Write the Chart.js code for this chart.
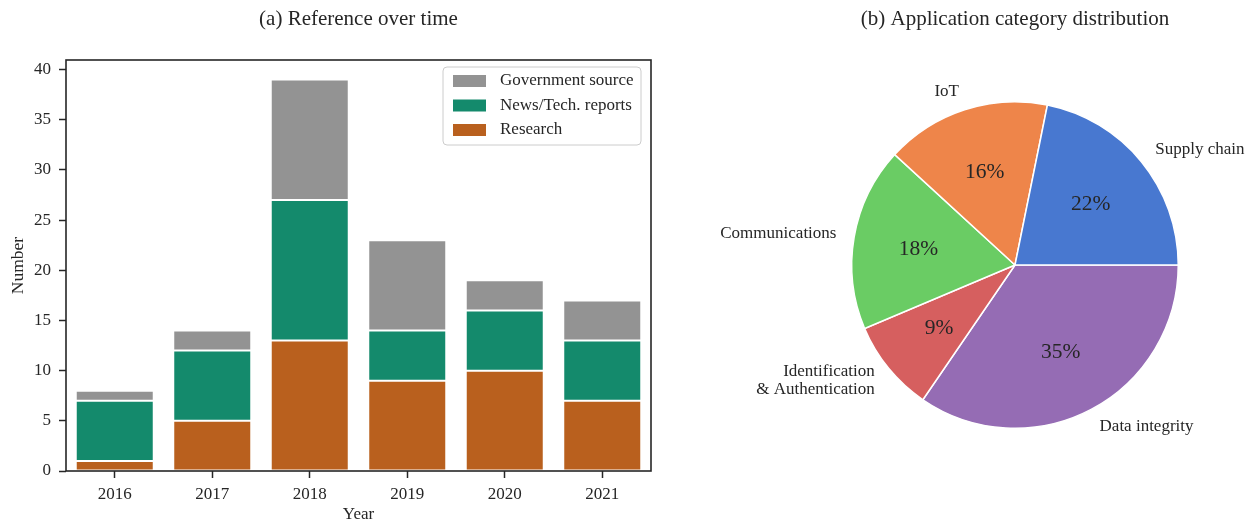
<!DOCTYPE html>
<html><head><meta charset="utf-8">
<script src="https://cdn.jsdelivr.net/npm/chart.js@4.4.0/dist/chart.umd.min.js"></script>
<style>
html,body{margin:0;padding:0;background:#fff;overflow:hidden;width:1247px;height:521px;}
#c1{position:absolute;left:0;top:0;}
#c2{position:absolute;left:690px;top:0;}
</style></head><body>
<canvas id="c1" width="700" height="521"></canvas>
<canvas id="c2" width="557" height="521"></canvas>
<script>
// ---- data ----
const years = ['2016','2017','2018','2019','2020','2021'];
const research = [1, 5, 13, 9, 10, 7];
const newsTech = [6, 7, 14, 5, 6, 6];
const government = [1, 2, 12, 9, 3, 4];
const yTicksStep = 5;

const pieLabels = ['Supply chain', 'IoT', 'Communications', 'Identification\n& Authentication', 'Data integrity'];
const pieValues = [12, 9, 10, 5, 19];

// ---- style ----
const SERIF = "'Liberation Serif','Times New Roman',Times,serif";
const INK = '#262626';
const barColors = {research: '#b9601e', news: '#148a6c', gov: '#939393'};
const pieColors = ['#4878d0', '#ee854a', '#6acc64', '#d65f5f', '#956cb4'];

const panelTitle = {
  id: 'panelTitle',
  afterDraw(chart, args, opts) {
    const ctx = chart.ctx, a = chart.chartArea;
    ctx.save();
    ctx.font = opts.size + 'px ' + SERIF;
    ctx.fillStyle = INK;
    ctx.textAlign = 'center';
    ctx.textBaseline = 'middle';
    ctx.fillText(opts.text, (a.left + a.right) / 2, opts.y);
    ctx.restore();
  }
};

const frameAndLegend = {
  id: 'frameAndLegend',
  afterDatasetsDraw(chart) {
    const ctx = chart.ctx, a = chart.chartArea;
    ctx.save();
    ctx.strokeStyle = INK;
    ctx.lineWidth = 1.6;
    ctx.strokeRect(a.left, a.top, a.right - a.left, a.bottom - a.top);
    // legend (top right inside axes)
    const bx = a.right - 208, by = a.top + 7, bw = 198, bh = 78;
    ctx.beginPath();
    ctx.roundRect(bx, by, bw, bh, 4);
    ctx.fillStyle = 'rgba(255,255,255,0.8)';
    ctx.fill();
    ctx.strokeStyle = '#cccccc';
    ctx.lineWidth = 1;
    ctx.stroke();
    const ds = chart.data.datasets.slice().reverse();
    ctx.font = '17px ' + SERIF;
    ctx.textBaseline = 'middle';
    ctx.textAlign = 'left';
    ds.forEach((d, i) => {
      const cy = by + 14 + i * 24.5;
      ctx.fillStyle = d.backgroundColor;
      ctx.fillRect(bx + 10, cy - 6, 33, 12);
      ctx.fillStyle = INK;
      ctx.fillText(d.label, bx + 57, cy);
    });
    ctx.restore();
  }
};

const tickStyle = {display: true, offset: false, drawOnChartArea: false, drawTicks: true, tickLength: 7, tickWidth: 1.5, tickColor: INK};

new Chart(document.getElementById('c1'), {
  type: 'bar',
  data: {
    labels: years,
    datasets: [
      {label: 'Research', data: research, backgroundColor: barColors.research},
      {label: 'News/Tech. reports', data: newsTech, backgroundColor: barColors.news},
      {label: 'Government source', data: government, backgroundColor: barColors.gov}
    ].map(d => Object.assign(d, {borderColor: '#ffffff', borderWidth: 1, borderSkipped: false, barPercentage: 0.8, categoryPercentage: 1.0}))
  },
  options: {
    responsive: false, animation: false,
    layout: {padding: {top: 60, right: 49, bottom: 0, left: 0}},
    plugins: {
      legend: {display: false}, tooltip: {enabled: false},
      panelTitle: {text: '(a) Reference over time', size: 21, y: 19}
    },
    scales: {
      x: {
        stacked: true, offset: true,
        grid: tickStyle, border: {display: false},
        ticks: {color: INK, font: {family: SERIF, size: 17}, padding: 6, maxRotation: 0},
        title: {display: true, text: 'Year', color: INK, font: {family: SERIF, size: 17, lineHeight: 0.8}, padding: {top: 0, bottom: 0}},
        afterFit: s => { s.height = 50; }
      },
      y: {
        stacked: true, min: 0, max: 40.95,
        grid: tickStyle, border: {display: false},
        ticks: {stepSize: yTicksStep, includeBounds: false, color: INK, font: {family: SERIF, size: 17}, padding: 8},
        title: {display: true, text: 'Number', color: INK, font: {family: SERIF, size: 17.5, lineHeight: 1}, padding: {top: 9.5, bottom: 0}},
        afterFit: s => { s.width = 66; }
      }
    }
  },
  plugins: [panelTitle, frameAndLegend]
});

// pie: matplotlib draws counter-clockwise from 3 o'clock; Chart.js draws clockwise,
// so feed the slices reversed and start at 3 o'clock.
const pieTotal = pieValues.reduce((s, v) => s + v, 0);
const revLabels = pieLabels.slice().reverse();
const revValues = pieValues.slice().reverse();
const revColors = pieColors.slice().reverse();

const pieText = {
  id: 'pieText',
  afterDatasetsDraw(chart) {
    const ctx = chart.ctx;
    const arcs = chart.getDatasetMeta(0).data;
    ctx.save();
    ctx.fillStyle = INK;
    arcs.forEach((arc, i) => {
      const p = arc.getProps(['x', 'y', 'startAngle', 'endAngle', 'outerRadius'], true);
      const mid = (p.startAngle + p.endAngle) / 2;
      const c = Math.cos(mid), s = Math.sin(mid);
      // percentage
      ctx.font = '21.5px ' + SERIF;
      ctx.textAlign = 'center';
      ctx.textBaseline = 'middle';
      const pct = Math.round(revValues[i] / pieTotal * 100) + '%';
      ctx.fillText(pct, p.x + c * p.outerRadius * 0.6, p.y + s * p.outerRadius * 0.6 + 1);
      // label
      ctx.font = '17px ' + SERIF;
      ctx.textAlign = c >= 0 ? 'left' : 'right';
      const lines = revLabels[i].split('\n');
      const lh = 18.5;
      const lx = p.x + c * p.outerRadius * 1.11, ly = p.y + s * p.outerRadius * 1.12;
      lines.forEach((t, k) => ctx.fillText(t, lx, ly + (k - (lines.length - 1) / 2) * lh));
    });
    ctx.restore();
  }
};

new Chart(document.getElementById('c2'), {
  type: 'pie',
  data: {
    labels: revLabels,
    datasets: [{data: revValues, backgroundColor: revColors, borderColor: '#ffffff', borderWidth: 1.5}]
  },
  options: {
    responsive: false, animation: false,
    rotation: 90,
    layout: {padding: {top: 101, left: 161, right: 68, bottom: 92}},
    plugins: {
      legend: {display: false}, tooltip: {enabled: false},
      panelTitle: {text: '(b) Application category distribution', size: 21, y: 19}
    }
  },
  plugins: [panelTitle, pieText]
});
</script>
</body></html>
